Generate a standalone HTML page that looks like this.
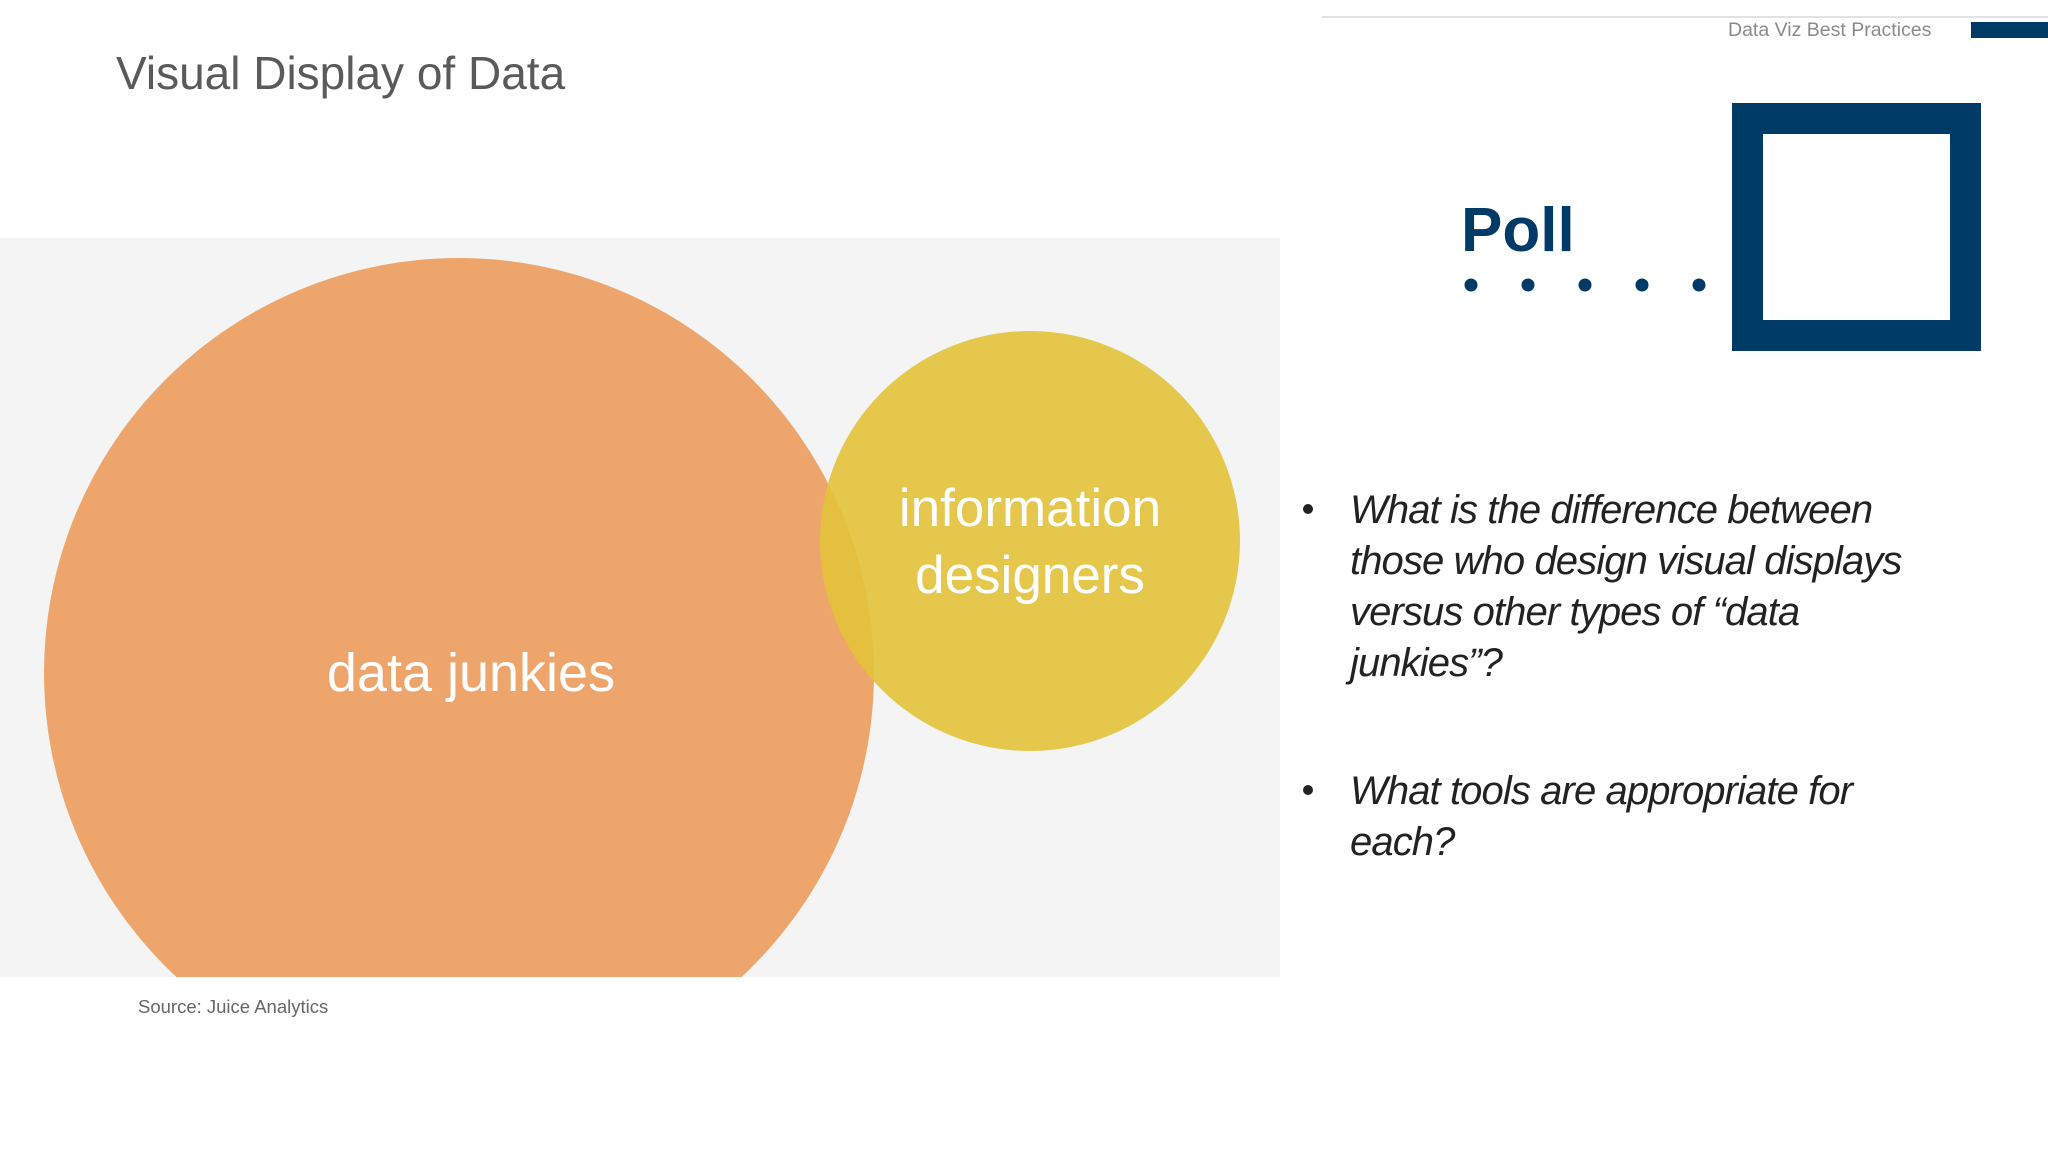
<!DOCTYPE html>
<html><head><meta charset="utf-8">
<style>
html,body{margin:0;padding:0;background:#fff;}
svg{display:block;font-family:"Liberation Sans",sans-serif;}
</style></head>
<body>
<svg width="2048" height="1152" viewBox="0 0 2048 1152">
  <line x1="1322" y1="17" x2="2048" y2="17" stroke="#e2e2e2" stroke-width="2"/>
  <text x="1728" y="36" font-size="19.5" fill="#8a8a8a">Data Viz Best Practices</text>
  <rect x="1971" y="22" width="77" height="16" fill="#003a66"/>
  <text x="116" y="89" font-size="46" fill="#5a5a5a">Visual Display of Data</text>

  <defs><clipPath id="pc"><rect x="0" y="238" width="1280" height="739"/></clipPath></defs>
  <rect x="0" y="238" width="1280" height="739" fill="#f4f4f4"/>
  <g id="venn" clip-path="url(#pc)"></g>
  <text x="138" y="1013" font-size="18.5" fill="#666">Source: Juice Analytics</text>

  <text x="1461" y="251" font-size="62" font-weight="bold" fill="#003a66">Poll</text>
  <g id="dots"></g>
  <rect x="1747.5" y="118.5" width="218" height="217" fill="none" stroke="#003a66" stroke-width="31"/>

  <g font-size="40" font-style="italic" fill="#222" letter-spacing="-0.9">
    <circle cx="1308" cy="509" r="5" fill="#222"/>
    <text x="1350" y="523">
      <tspan x="1350" y="523">What is the difference between</tspan>
      <tspan x="1350" y="574">those who design visual displays</tspan>
      <tspan x="1350" y="625">versus other types of “data</tspan>
      <tspan x="1350" y="676">junkies”?</tspan>
    </text>
    <circle cx="1308" cy="790" r="5" fill="#222"/>
    <text>
      <tspan x="1350" y="804">What tools are appropriate for</tspan>
      <tspan x="1350" y="855">each?</tspan>
    </text>
  </g>
</svg>
<script>
const setNames=["data junkies","information designers"];
const setCx=[459,1030];
const setCy=[673,541];
const setR=[415,210];
const setColors=["#eea56b","#e3c23a"];
const NS="http://www.w3.org/2000/svg";
const g=document.getElementById('venn');
const labelLines=[["data junkies"],["information","designers"]];
setNames.forEach((n,i)=>{
  const c=document.createElementNS(NS,'circle');
  
  
  c.setAttribute('cx',setCx[i]);c.setAttribute('cy',setCy[i]);c.setAttribute('r',setR[i]);
  c.setAttribute('fill',setColors[i]);
  c.setAttribute('fill-opacity',i===1?'0.9':'1');
  g.appendChild(c);
});
setNames.forEach((n,i)=>{
  const lines=labelLines[i];
  const t=document.createElementNS(NS,'text');
  
  
  t.setAttribute('text-anchor','middle');t.setAttribute('font-size',i===1?'53':'54');t.setAttribute('fill','#fff');
  const x=i===0?setCx[i]+12:setCx[i];
  const y0=setCy[i]+18-(lines.length-1)*33;
  lines.forEach((l,k)=>{
    const s=document.createElementNS(NS,'tspan');
    s.setAttribute('x',x);s.setAttribute('y',y0+k*67);s.textContent=l;t.appendChild(s);
  });
  g.appendChild(t);
});
const dotCount=5;
const dg=document.getElementById('dots');
for(let i=0;i<dotCount;i++){
  const d=document.createElementNS(NS,'circle');
  
  
  d.setAttribute('cx',1471+i*57);d.setAttribute('cy',285);d.setAttribute('r',6.5);d.setAttribute('fill','#003a66');
  dg.appendChild(d);
}
</script>
</body></html>
